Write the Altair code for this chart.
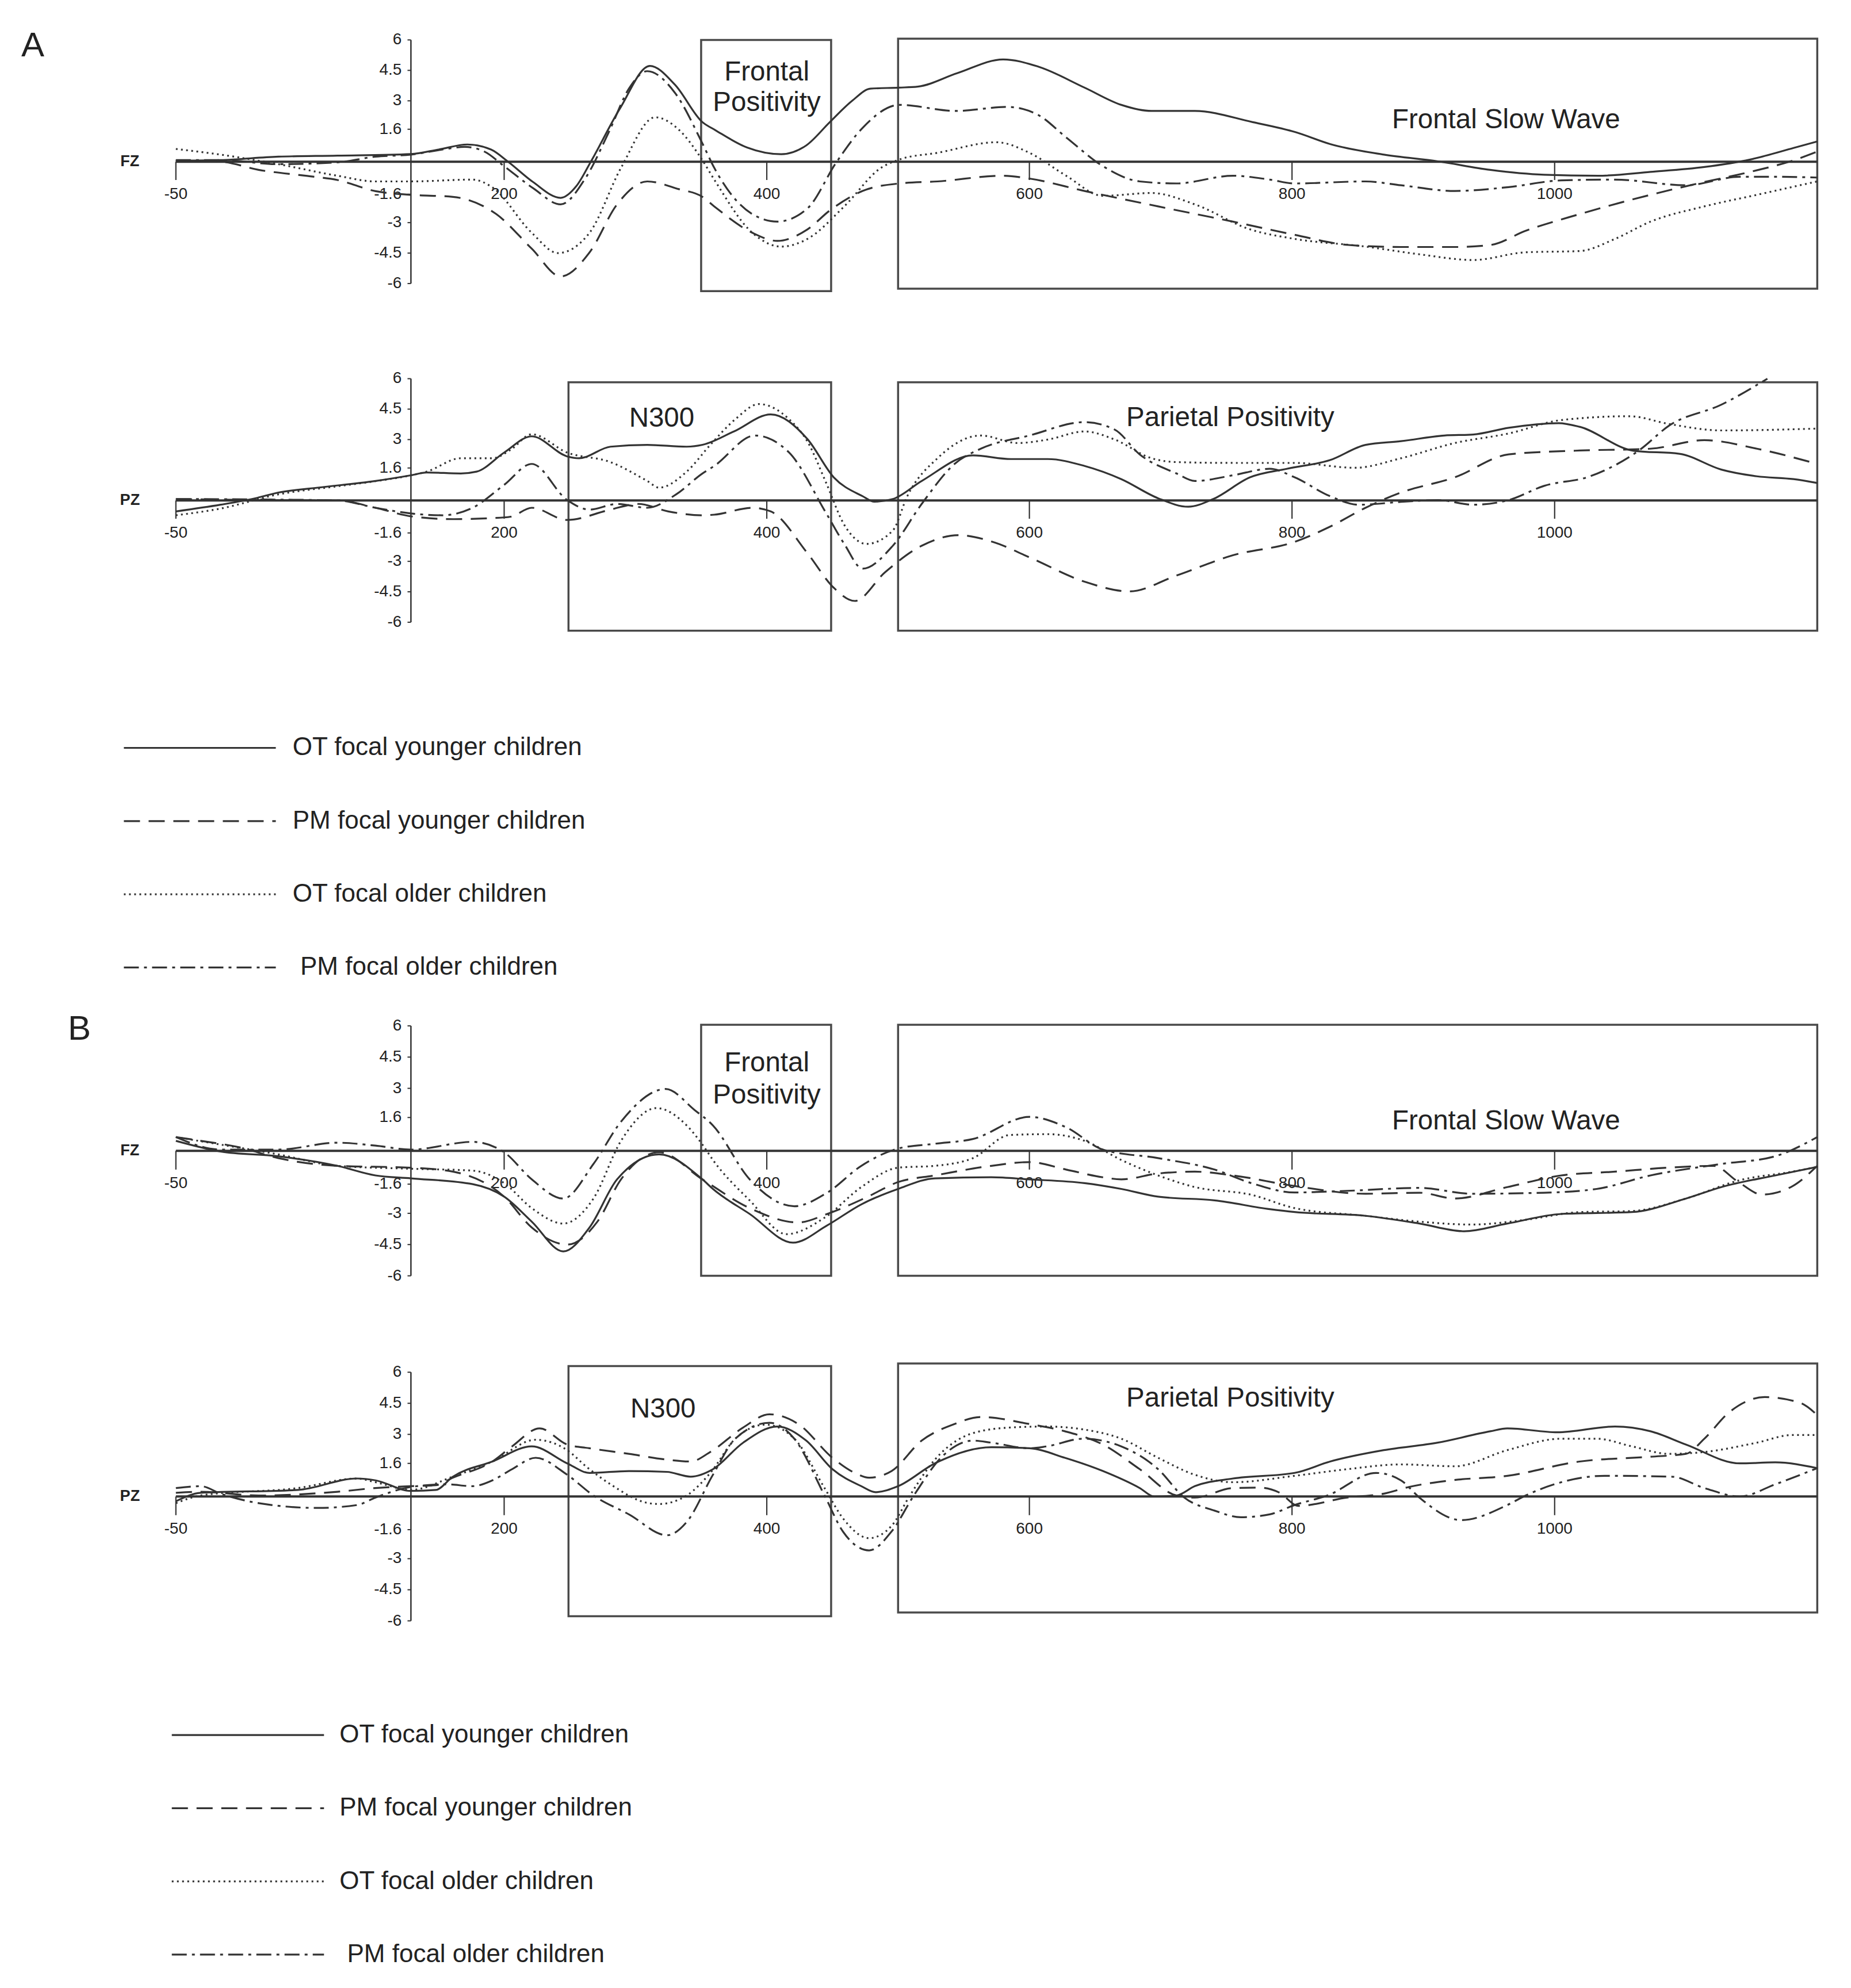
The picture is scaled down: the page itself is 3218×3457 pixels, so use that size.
import altair as alt
import pandas as pd

# ------------------------------------------------------------------
# DATA  (time in ms, amplitude in microvolts)
# OTY = OT focal younger (solid), PMY = PM focal younger (dashed)
# OTO = OT focal older (dotted),  PMO = PM focal older (dash-dot)
# ------------------------------------------------------------------
# ---- Panel A, FZ ----
A_FZ_OTY_T = [-50, -16, 28, 73, 129, 150, 172, 190, 203, 222, 243, 255, 266, 288, 311, 330, 351, 361, 385, 411, 430, 448, 465, 479, 501, 515, 545, 580, 606, 642, 670, 693, 726, 770, 803, 829, 870, 911, 951, 992, 1033, 1073, 1114, 1149, 1182, 1200]
A_FZ_OTY_V = [0.05, 0.08, 0.25, 0.3, 0.38, 0.6, 0.85, 0.6, 0.0, -1.0, -1.78, -1.2, 0.0, 2.6, 4.72, 3.8, 1.95, 1.55, 0.7, 0.37, 0.8, 1.95, 3.0, 3.6, 3.65, 3.7, 4.36, 5.04, 4.7, 3.65, 2.8, 2.5, 2.5, 1.95, 1.45, 0.87, 0.35, 0.02, -0.4, -0.64, -0.69, -0.5, -0.26, 0.11, 0.68, 1.0]
A_FZ_PMY_T = [-50, -16, 13, 50, 73, 102, 129, 161, 194, 221, 243, 265, 286, 309, 333, 351, 360, 389, 408, 431, 448, 473, 501, 530, 580, 600, 642, 698, 755, 802, 843, 883, 924, 951, 978, 1019, 1073, 1114, 1149, 1182, 1200]
A_FZ_PMY_V = [0.05, 0.0, -0.4, -0.7, -0.9, -1.45, -1.63, -1.73, -2.58, -4.28, -5.65, -4.47, -2.1, -0.97, -1.35, -1.73, -2.2, -3.5, -3.9, -3.33, -2.4, -1.44, -1.07, -0.97, -0.69, -0.83, -1.44, -2.2, -2.95, -3.6, -4.1, -4.2, -4.2, -4.1, -3.4, -2.58, -1.63, -1.0, -0.5, 0.07, 0.5]
A_FZ_OTO_T = [-50, -16, 28, 73, 102, 129, 176, 191, 221, 241, 265, 289, 315, 333, 351, 360, 389, 411, 431, 459, 487, 501, 530, 575, 600, 628, 656, 693, 726, 768, 802, 856, 897, 938, 978, 1019, 1046, 1073, 1114, 1154, 1200]
A_FZ_OTO_V = [0.63, 0.35, -0.12, -0.69, -0.97, -0.97, -0.88, -1.26, -3.5, -4.5, -3.5, -0.3, 2.19, 1.58, 0.07, -0.88, -3.5, -4.18, -3.8, -2.2, -0.3, 0.11, 0.44, 0.96, 0.44, -0.69, -1.68, -1.54, -2.1, -3.33, -3.8, -4.18, -4.56, -4.84, -4.46, -4.4, -3.8, -2.95, -2.2, -1.63, -0.97]
A_FZ_PMO_T = [-50, -16, 28, 73, 102, 129, 156, 170, 185, 200, 222, 243, 262, 280, 295, 309, 330, 351, 360, 389, 408, 431, 453, 473, 501, 544, 583, 606, 628, 656, 684, 712, 755, 783, 802, 856, 883, 924, 965, 1005, 1046, 1100, 1141, 1168, 1200]
A_FZ_PMO_V = [0.08, 0.08, -0.12, -0.03, 0.25, 0.35, 0.63, 0.73, 0.5, -0.22, -1.3, -2.1, -0.8, 1.5, 3.6, 4.46, 3.4, 0.9, -0.3, -2.58, -2.95, -2.3, -0.03, 1.67, 2.8, 2.5, 2.7, 2.33, 1.2, -0.22, -0.97, -1.07, -0.69, -0.88, -1.07, -0.97, -1.16, -1.44, -1.25, -0.92, -0.88, -1.16, -0.74, -0.74, -0.78]

# ---- Panel A, PZ ----
A_PZ_OTY_T = [-50, -16, 10, 28, 58, 102, 129, 141, 167, 179, 200, 221, 248, 257, 281, 309, 339, 351, 375, 403, 431, 451, 473, 482, 496, 518, 557, 586, 614, 642, 670, 698, 721, 740, 768, 796, 829, 856, 883, 916, 938, 965, 1003, 1019, 1060, 1095, 1127, 1154, 1182, 1200]
A_PZ_OTY_V = [-0.54, -0.21, 0.1, 0.39, 0.63, 0.96, 1.24, 1.38, 1.33, 1.42, 2.36, 3.16, 2.17, 2.08, 2.65, 2.74, 2.65, 2.74, 3.4, 4.24, 3.02, 1.14, 0.21, -0.06, 0.07, 0.96, 2.22, 2.04, 2.04, 1.7, 1.05, 0.11, -0.31, 0.07, 1.14, 1.56, 1.99, 2.74, 2.92, 3.2, 3.25, 3.58, 3.81, 3.63, 2.45, 2.3, 1.52, 1.19, 1.05, 0.86]
A_PZ_PMY_T = [-50, 14, 73, 102, 129, 161, 191, 205, 221, 248, 281, 302, 325, 351, 360, 389, 403, 431, 451, 467, 490, 518, 546, 572, 600, 642, 676, 712, 755, 802, 829, 856, 883, 924, 965, 1019, 1073, 1114, 1154, 1200]
A_PZ_PMY_V = [0.07, 0.02, 0.0, -0.36, -0.78, -0.92, -0.87, -0.8, -0.36, -0.96, -0.45, -0.17, -0.54, -0.73, -0.7, -0.36, -0.54, -2.6, -4.3, -4.95, -3.54, -2.23, -1.71, -2.04, -2.8, -4.0, -4.48, -3.7, -2.7, -2.04, -1.29, -0.36, 0.39, 1.14, 2.27, 2.46, 2.55, 2.97, 2.55, 1.8]
A_PZ_OTO_T = [-50, -16, 28, 73, 102, 129, 141, 167, 191, 205, 221, 248, 281, 309, 318, 339, 357, 376, 394, 417, 431, 445, 459, 476, 496, 507, 530, 563, 591, 614, 642, 665, 693, 712, 755, 802, 848, 883, 924, 965, 1005, 1057, 1087, 1127, 1200]
A_PZ_OTO_V = [-0.73, -0.4, 0.3, 0.7, 0.95, 1.24, 1.42, 2.08, 2.08, 2.5, 3.26, 2.36, 1.89, 0.96, 0.63, 1.42, 2.74, 4.0, 4.75, 4.0, 2.9, 0.9, -1.2, -2.14, -1.48, 0.21, 2.08, 3.2, 2.83, 3.0, 3.4, 3.0, 2.08, 1.89, 1.85, 1.85, 1.61, 2.08, 2.83, 3.3, 3.96, 4.15, 3.77, 3.45, 3.54]
A_PZ_PMO_T = [-50, 14, 73, 102, 129, 153, 176, 200, 221, 248, 265, 286, 309, 331, 351, 360, 391, 417, 445, 459, 473, 496, 518, 543, 563, 600, 642, 665, 684, 712, 726, 755, 783, 802, 829, 851, 883, 911, 938, 965, 992, 1027, 1065, 1087, 1127, 1162]
A_PZ_PMO_V = [0.07, 0.05, 0.0, -0.36, -0.64, -0.73, -0.36, 0.77, 1.8, 0.02, -0.45, -0.17, -0.36, 0.3, 1.33, 1.7, 3.2, 2.36, -0.6, -2.14, -3.36, -2.23, -0.17, 1.8, 2.55, 3.2, 3.86, 3.49, 2.27, 1.33, 0.96, 1.24, 1.56, 1.14, 0.21, -0.21, -0.07, 0.02, -0.21, 0.02, 0.72, 1.19, 2.5, 3.68, 4.72, 6.0]

# ---- Panel B, FZ ----
B_FZ_OTY_T = [-50, -16, 28, 73, 102, 129, 176, 200, 221, 245, 265, 286, 318, 351, 359, 387, 420, 446, 472, 500, 528, 571, 600, 642, 670, 698, 741, 783, 802, 856, 897, 931, 964, 1005, 1059, 1100, 1127, 1168, 1200]
B_FZ_OTY_V = [0.48, -0.03, -0.26, -0.72, -1.18, -1.32, -1.6, -2.2, -3.4, -4.83, -3.68, -1.37, -0.17, -1.37, -1.83, -3.03, -4.41, -3.58, -2.57, -1.83, -1.32, -1.27, -1.37, -1.55, -1.83, -2.2, -2.38, -2.8, -2.94, -3.12, -3.49, -3.86, -3.49, -3.03, -2.94, -2.29, -1.74, -1.18, -0.77]
B_FZ_PMY_T = [-50, -31, -1, 28, 73, 129, 161, 200, 221, 248, 271, 289, 318, 351, 387, 424, 446, 477, 500, 528, 571, 600, 628, 656, 670, 698, 726, 755, 802, 856, 897, 924, 964, 1005, 1046, 1086, 1121, 1140, 1158, 1181, 1200]
B_FZ_PMY_V = [0.66, 0.48, 0.16, -0.35, -0.72, -0.81, -1.0, -2.2, -3.68, -4.5, -3.4, -1.37, -0.07, -1.37, -2.75, -3.44, -3.03, -2.2, -1.5, -1.18, -0.72, -0.54, -0.9, -1.27, -1.37, -1.09, -1.0, -1.18, -1.69, -2.06, -2.01, -2.29, -1.74, -1.18, -1.0, -0.81, -0.72, -1.5, -2.1, -1.7, -0.72]
B_FZ_OTO_T = [-50, -16, 28, 73, 129, 176, 200, 221, 245, 268, 289, 316, 339, 351, 359, 387, 415, 444, 472, 500, 528, 557, 585, 614, 642, 670, 698, 726, 769, 802, 856, 897, 937, 978, 1019, 1059, 1100, 1141, 1181, 1200]
B_FZ_OTO_V = [0.66, 0.3, -0.17, -0.72, -0.86, -0.95, -1.55, -2.75, -3.49, -2.29, 0.48, 2.05, 1.22, 0.3, -0.44, -2.38, -4.0, -3.21, -1.74, -0.81, -0.72, -0.35, 0.76, 0.8, 0.48, -0.44, -1.18, -1.74, -2.11, -2.75, -3.12, -3.4, -3.54, -3.31, -2.94, -2.89, -2.29, -1.41, -1.0, -0.77]
B_FZ_PMO_T = [-50, -16, 28, 73, 102, 129, 176, 200, 221, 245, 268, 289, 323, 345, 359, 387, 421, 446, 472, 500, 528, 557, 600, 628, 656, 698, 741, 769, 802, 842, 897, 937, 992, 1032, 1073, 1127, 1168, 1200]
B_FZ_PMO_V = [0.66, 0.06, 0.06, 0.39, 0.25, 0.06, 0.43, -0.07, -1.37, -2.29, -0.63, 1.4, 2.97, 1.96, 1.22, -1.37, -2.66, -2.01, -0.72, 0.11, 0.34, 0.57, 1.63, 1.13, 0.06, -0.35, -0.9, -1.55, -2.0, -1.92, -1.78, -2.06, -2.01, -1.83, -1.18, -0.63, -0.26, 0.66]

# ---- Panel B, PZ ----
B_PZ_OTY_T = [-50, -31, 43, 88, 102, 129, 148, 161, 191, 221, 248, 265, 295, 324, 342, 359, 382, 408, 430, 450, 472, 483, 500, 528, 571, 600, 627, 656, 684, 695, 712, 726, 755, 802, 829, 870, 911, 951, 964, 1002, 1046, 1073, 1100, 1141, 1168, 1200]
B_PZ_OTY_V = [-0.23, 0.18, 0.32, 0.87, 0.78, 0.27, 0.32, 0.96, 1.69, 2.42, 1.6, 1.14, 1.23, 1.19, 0.96, 1.32, 2.6, 3.38, 2.7, 1.32, 0.5, 0.21, 0.5, 1.6, 2.38, 2.33, 1.87, 1.23, 0.41, 0.0, 0.05, 0.5, 0.87, 1.14, 1.69, 2.24, 2.6, 3.15, 3.29, 3.1, 3.38, 3.15, 2.51, 1.6, 1.65, 1.37]
B_PZ_PMY_T = [-50, -31, 13, 73, 102, 129, 148, 161, 191, 206, 227, 248, 265, 295, 324, 342, 357, 382, 402, 424, 450, 467, 478, 495, 518, 543, 563, 600, 627, 656, 684, 712, 726, 755, 775, 790, 805, 842, 870, 889, 921, 964, 1019, 1073, 1100, 1114, 1133, 1160, 1187, 1200]
B_PZ_PMY_V = [0.18, 0.23, 0.05, 0.23, 0.41, 0.5, 0.55, 0.91, 1.69, 2.42, 3.29, 2.51, 2.33, 2.06, 1.78, 1.69, 2.15, 3.33, 3.97, 3.5, 1.87, 1.14, 0.91, 1.23, 2.7, 3.5, 3.84, 3.5, 3.15, 2.51, 1.32, 0.05, -0.05, 0.41, 0.43, 0.2, -0.45, -0.05, 0.14, 0.46, 0.78, 1.0, 1.69, 1.92, 2.06, 2.79, 4.07, 4.8, 4.52, 3.93]
B_PZ_OTO_T = [-50, -31, 43, 88, 102, 129, 161, 191, 224, 248, 263, 281, 310, 318, 339, 357, 376, 399, 421, 444, 458, 478, 495, 509, 528, 557, 585, 613, 641, 670, 698, 726, 755, 802, 842, 883, 924, 964, 1005, 1032, 1059, 1087, 1114, 1154, 1181, 1200]
B_PZ_OTO_V = [-0.32, 0.05, 0.41, 0.87, 0.69, 0.32, 0.96, 1.69, 2.74, 2.24, 1.42, 0.59, -0.32, -0.36, 0.05, 1.14, 2.79, 3.47, 2.79, 0.41, -1.05, -2.01, -1.42, 0.05, 1.78, 3.06, 3.33, 3.38, 3.24, 2.79, 1.87, 1.05, 0.69, 1.0, 1.32, 1.55, 1.46, 2.24, 2.79, 2.79, 2.42, 2.06, 2.15, 2.6, 2.97, 2.97]
B_PZ_PMO_T = [-50, -31, -16, 13, 58, 88, 102, 129, 156, 176, 191, 206, 224, 248, 268, 295, 324, 339, 359, 376, 402, 421, 444, 458, 478, 495, 512, 534, 557, 571, 600, 613, 641, 670, 698, 718, 741, 761, 783, 802, 827, 864, 883, 897, 929, 964, 978, 1005, 1038, 1089, 1114, 1141, 1168, 1200]
B_PZ_PMO_V = [0.41, 0.5, 0.14, -0.32, -0.55, -0.41, -0.05, 0.46, 0.59, 0.5, 0.78, 1.32, 1.87, 1.05, 0.05, -0.86, -1.87, -1.23, 1.05, 2.79, 3.56, 2.79, 0.05, -1.69, -2.6, -1.69, 0.05, 1.96, 2.7, 2.6, 2.33, 2.42, 2.79, 2.42, 1.32, -0.05, -0.68, -1.0, -0.86, -0.41, 0.05, 1.14, 0.78, -0.05, -1.14, -0.41, 0.05, 0.69, 1.0, 0.96, 0.41, 0.0, 0.59, 1.37]

# ---- component windows (ms start, ms end, µV bottom, µV top) ----
A_FZ_BOX_T0 = [350, 500]; A_FZ_BOX_T1 = [449, 1200]; A_FZ_BOX_V0 = [-6.37, -6.25]; A_FZ_BOX_V1 = [6.0, 6.06]
A_PZ_BOX_T0 = [249, 500]; A_PZ_BOX_T1 = [449, 1200]; A_PZ_BOX_V0 = [-6.42, -6.42]; A_PZ_BOX_V1 = [5.82, 5.82]
B_FZ_BOX_T0 = [350, 500]; B_FZ_BOX_T1 = [449, 1200]; B_FZ_BOX_V0 = [-6.0, -6.0]; B_FZ_BOX_V1 = [6.05, 6.05]
B_PZ_BOX_T0 = [249, 500]; B_PZ_BOX_T1 = [449, 1200]; B_PZ_BOX_V0 = [-5.78, -5.6]; B_PZ_BOX_V1 = [6.3, 6.42]

# ---- window labels ----
A_FZ_LBL = ["Frontal", "Positivity", "Frontal Slow Wave"]; A_FZ_LBL_T = [400, 400, 963]; A_FZ_LBL_V = [4.4, 2.9, 2.05]
A_PZ_LBL = ["N300", "Parietal Positivity"]; A_PZ_LBL_T = [320, 753]; A_PZ_LBL_V = [4.03, 4.06]
B_FZ_LBL = ["Frontal", "Positivity", "Frontal Slow Wave"]; B_FZ_LBL_T = [400, 400, 963]; B_FZ_LBL_V = [4.2, 2.65, 1.42]
B_PZ_LBL = ["N300", "Parietal Positivity"]; B_PZ_LBL_T = [321, 753]; B_PZ_LBL_V = [4.2, 4.72]

# ---- axes ----
X_TICKS = [-50, 200, 400, 600, 800, 1000]
X_TICK_LABELS = ["-50", "200", "400", "600", "800", "1000"]
Y_TICKS = [6, 4.5, 3, 1.6, -1.6, -3, -4.5, -6]
Y_TICK_LABELS = ["6", "4.5", "3", "1.6", "-1.6", "-3", "-4.5", "-6"]

SERIES = ["OTY", "PMY", "OTO", "PMO"]
LEGEND_LABELS = ["OT focal younger children", "PM focal younger children",
                 "OT focal older children", "PM focal older children"]

# ------------------------------------------------------------------
# STYLE / LAYOUT
# ------------------------------------------------------------------
FONT = "Liberation Sans, Arial, Helvetica, sans-serif"
INK = "#333333"
TXT = "#222222"
DASH = {"OTY": None, "PMY": [28, 15], "OTO": [3, 6], "PMO": [26, 9, 5, 9]}
X_MIN, X_MAX = -180, 1220
PX_PER_MS = 2.2828
W = round((X_MAX - X_MIN) * PX_PER_MS)
Y_AXIS_AT = 129        # ms position where the vertical axis crosses
X_START, X_END = -50, 1200
K = 1.0049             # page-coordinate scale factor
PAGE_TOP = 8


def xsc():
    return alt.Scale(domain=[X_MIN, X_MAX], nice=False, zero=False)


def ydom(top, bottom, y6, ym6):
    u = (ym6 - y6) / 12.0
    return [-6 - (bottom - ym6) / u, 6 + (y6 - top) / u], round(bottom - top)


def panel(prefix, chan, top, bottom, y6, ym6, letter=None):
    g = globals()
    dom, H = ydom(top, bottom, y6, ym6)
    ys = alt.Scale(domain=dom, nice=False, zero=False)
    X = lambda f: alt.X(f, type="quantitative", scale=xsc(), axis=None)
    Y = lambda f: alt.Y(f, type="quantitative", scale=ys, axis=None)
    layers = []

    bx = pd.DataFrame({"t0": g[prefix + "_BOX_T0"], "t1": g[prefix + "_BOX_T1"],
                       "v0": g[prefix + "_BOX_V0"], "v1": g[prefix + "_BOX_V1"]})
    layers.append(alt.Chart(bx).mark_rect(fill="transparent", stroke="#4a4a4a", strokeWidth=3.5).encode(
        x=X("t0"), x2="t1", y=Y("v0"), y2="v1"))

    zl = pd.DataFrame({"t0": [X_START], "t1": [X_END], "v": [0]})
    layers.append(alt.Chart(zl).mark_rule(color=INK, strokeWidth=4).encode(x=X("t0"), x2="t1", y=Y("v")))
    yl = pd.DataFrame({"t": [Y_AXIS_AT], "v0": [min(Y_TICKS)], "v1": [max(Y_TICKS)]})
    layers.append(alt.Chart(yl).mark_rule(color=INK, strokeWidth=2.5).encode(x=X("t"), y=Y("v0"), y2="v1"))
    xt = pd.DataFrame({"t": X_TICKS, "lab": X_TICK_LABELS, "v0": [0] * len(X_TICKS), "v1": [-0.9] * len(X_TICKS)})
    layers.append(alt.Chart(xt).mark_rule(color=INK, strokeWidth=2.2).encode(x=X("t"), y=Y("v0"), y2="v1"))
    layers.append(alt.Chart(xt).mark_text(font=FONT, fontSize=28, color=TXT, align="center",
                                          baseline="middle", dy=57).encode(x=X("t"), y=Y("v0"), text="lab:N"))
    yt = pd.DataFrame({"v": Y_TICKS, "lab": Y_TICK_LABELS,
                       "t0": [Y_AXIS_AT - 2.6] * len(Y_TICKS), "t1": [Y_AXIS_AT] * len(Y_TICKS)})
    layers.append(alt.Chart(yt).mark_rule(color=INK, strokeWidth=2).encode(x=X("t0"), x2="t1", y=Y("v")))
    layers.append(alt.Chart(yt).mark_text(font=FONT, fontSize=28, color=TXT, align="right",
                                          baseline="middle", dx=-16).encode(x=X("t1"), y=Y("v"), text="lab:N"))
    ch = pd.DataFrame({"t": [-85], "v": [0], "lab": [chan]})
    layers.append(alt.Chart(ch).mark_text(font=FONT, fontSize=27, fontWeight="bold", color=TXT,
                                          align="center", baseline="middle").encode(x=X("t"), y=Y("v"), text="lab:N"))
    lb = pd.DataFrame({"lab": g[prefix + "_LBL"], "t": g[prefix + "_LBL_T"], "v": g[prefix + "_LBL_V"]})
    layers.append(alt.Chart(lb).mark_text(font=FONT, fontSize=47.5, color=TXT, align="center",
                                          baseline="middle").encode(x=X("t"), y=Y("v"), text="lab:N"))
    if letter is not None:
        lt = pd.DataFrame({"lab": [letter[0]], "t": [letter[1]], "v": [letter[2]]})
        layers.append(alt.Chart(lt).mark_text(font=FONT, fontSize=60, color=TXT, align="center",
                                              baseline="middle").encode(x=X("t"), y=Y("v"), text="lab:N"))
    for key in SERIES:
        df = pd.DataFrame({"t": g[f"{prefix}_{key}_T"], "v": g[f"{prefix}_{key}_V"]})
        kw = dict(stroke=INK, strokeWidth=3.2, interpolate="monotone")
        if DASH[key]:
            kw["strokeDash"] = DASH[key]
        layers.append(alt.Chart(df).mark_line(**kw).encode(x=X("t"), y=Y("v")))
    return alt.layer(*layers).properties(width=W, height=H)


def legend(top, bottom, first_row, row_gap, line_t0, line_t1, text_t):
    H = round(bottom - top)
    dom = [-(first_row - top) / row_gap, (bottom - first_row) / row_gap]
    ys = alt.Scale(domain=dom, nice=False, zero=False, reverse=True)
    X = lambda f: alt.X(f, type="quantitative", scale=xsc(), axis=None)
    Y = lambda f: alt.Y(f, type="quantitative", scale=ys, axis=None)
    layers = []
    for i, key in enumerate(SERIES):
        df = pd.DataFrame({"row": [i], "t0": [line_t0], "t1": [line_t1]})
        kw = dict(color=INK, strokeWidth=3.2)
        if DASH[key]:
            kw["strokeDash"] = DASH[key]
        layers.append(alt.Chart(df).mark_rule(**kw).encode(x=X("t0"), x2="t1", y=Y("row")))
    tx = pd.DataFrame({"row": list(range(4)), "lab": LEGEND_LABELS, "t": text_t})
    layers.append(alt.Chart(tx).mark_text(font=FONT, fontSize=44, color=TXT, align="left",
                                          baseline="middle").encode(x=X("t"), y=Y("row"), text="lab:N"))
    return alt.layer(*layers).properties(width=W, height=H)


elems = [
    panel("A_FZ", "FZ", PAGE_TOP, 572 * K, 68.05 * K, 489.5 * K, letter=("A", -159, 5.7)),
    panel("A_PZ", "PZ", 572 * K, 1190 * K, 654.1 * K, 1075.6 * K),
    legend(1190 * K, 1720 * K, 1292.9 * K, 126.6 * K, -89.6, 26.1, [38.9, 38.9, 38.9, 44.7]),
    panel("B_FZ", "FZ", 1720 * K, 2290 * K, 1773.6 * K, 2206.0 * K, letter=("B", -123.5, 5.82)),
    panel("B_PZ", "PZ", 2290 * K, 2900 * K, 2372.8 * K, 2803.0 * K),
    legend(2900 * K, 3446, 3000.6 * K, 126.6 * K, -53.1, 62.8, [74.6, 74.6, 74.6, 80.4]),
]

chart = alt.vconcat(*elems, spacing=0, bounds="flush").resolve_scale(
    x="independent", y="independent"
).properties(padding=0, background="white").configure_view(stroke="transparent")

chart.save("out.html", embed_options={"renderer": "svg", "actions": False})
